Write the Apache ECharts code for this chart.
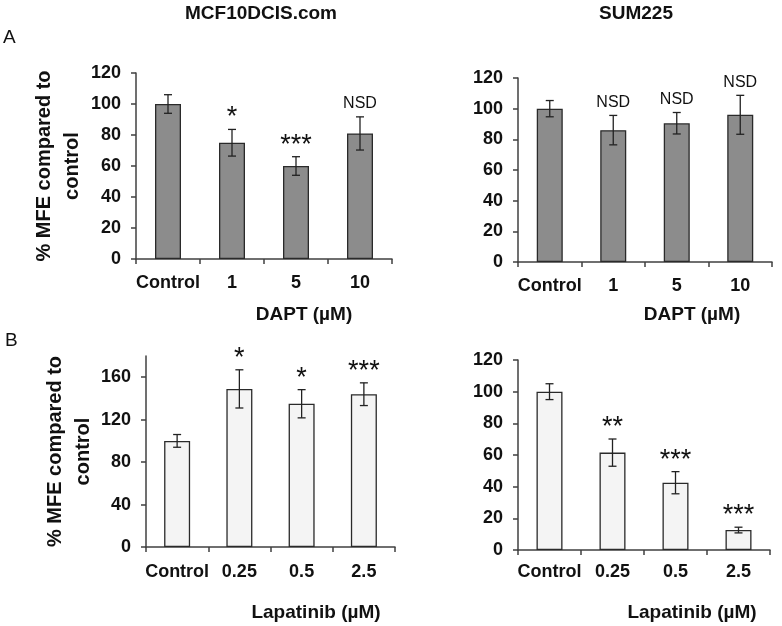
<!DOCTYPE html>
<html lang="en">

<head>
  <meta charset="UTF-8">
  <title>MFE</title>
  <script src="https://cdn.jsdelivr.net/npm/echarts@6/dist/echarts.min.js"></script>
  <style>
    body { margin: 0; background: #fff; }
  </style>
</head>

<body>
  <div id="main" style="width: 782px; height: 626px;"></div>
  <script>
    // categories
    var daptCats = ['Control', '1', '5', '10'];
    var lapCats = ['Control', '0.25', '0.5', '2.5'];

    // DAPT, MCF10DCIS.com
    var mcfDapt = [100, 75, 60, 81];
    var mcfDaptErr = [6, 8.6, 6, 10.7];
    var mcfDaptNote = ['', '*', '***', 'NSD'];

    // DAPT, SUM225
    var sumDapt = [100, 86, 90.5, 96];
    var sumDaptErr = [5.3, 9.6, 7, 12.7];
    var sumDaptNote = ['', 'NSD', 'NSD', 'NSD'];

    // Lapatinib, MCF10DCIS.com
    var mcfLap = [100, 149, 135, 144];
    var mcfLapErr = [6, 18, 13.3, 10.7];
    var mcfLapNote = ['', '*', '*', '***'];

    // Lapatinib, SUM225
    var sumLap = [100, 61.5, 42.5, 12.6];
    var sumLapErr = [5, 8.6, 7, 1.8];
    var sumLapNote = ['', '**', '***', '***'];

    var yTicksA = [0, 20, 40, 60, 80, 100, 120];
    var yTicksB = [0, 40, 80, 120, 160];

    var FONT = '"Liberation Sans", Arial, sans-serif';
    var AX = '#404040';

    var myChart = echarts.init(document.getElementById('main'));

    function xAx(idx, cats, margin) {
      return {
        type: 'category', gridIndex: idx, data: cats,
        axisLine: { lineStyle: { color: AX, width: 1.5 } },
        axisTick: { show: true, length: 5, lineStyle: { color: AX, width: 1.5 } },
        axisLabel: { interval: 0, margin: margin, fontFamily: FONT, fontSize: 18, fontWeight: 'bold', color: '#111' }
      };
    }

    function yAx(idx, max, ticks, name, gap) {
      return {
        type: 'value', gridIndex: idx, min: 0, max: max, interval: 20,
        name: name, nameLocation: 'middle', nameRotate: 90, nameGap: gap,
        nameTextStyle: { fontFamily: FONT, fontSize: 20, fontWeight: 'bold', color: '#111', lineHeight: 28 },
        splitLine: { show: false },
        axisLine: { show: true, lineStyle: { color: AX, width: 1.5 } },
        axisTick: { show: true, length: 5, customValues: ticks, lineStyle: { color: AX, width: 1.5 } },
        axisLabel: { margin: 15, customValues: ticks, fontFamily: FONT, fontSize: 18, fontWeight: 'bold', color: '#111' }
      };
    }

    function barSeries(idx, vals, fill) {
      return {
        type: 'bar', xAxisIndex: idx, yAxisIndex: idx, data: vals, barWidth: 26,
        itemStyle: { color: fill, borderColor: '#2a2a2a', borderWidth: 1.3 },
        emphasis: { disabled: true }
      };
    }

    // error bars + significance notes
    function errSeries(idx, vals, errs, notes) {
      var data = vals.map(function (v, i) { return [i, v, errs[i]]; });
      return {
        type: 'custom', xAxisIndex: idx, yAxisIndex: idx, data: data, z: 5,
        renderItem: function (params, api) {
          var i = api.value(0), m = api.value(1), e = api.value(2);
          var hi = api.coord([i, m + e]);
          var lo = api.coord([i, m - e]);
          var cx = hi[0], w = 4;
          var ls = { stroke: '#222', lineWidth: 1.3 };
          var note = notes[params.dataIndex];
          var star = note.indexOf('*') >= 0;
          var children = [
            { type: 'line', shape: { x1: cx, y1: hi[1], x2: cx, y2: lo[1] }, style: ls },
            { type: 'line', shape: { x1: cx - w, y1: hi[1], x2: cx + w, y2: hi[1] }, style: ls },
            { type: 'line', shape: { x1: cx - w, y1: lo[1], x2: cx + w, y2: lo[1] }, style: ls }
          ];
          if (note) {
            children.push({
              type: 'text', x: cx, y: star ? hi[1] - 25 : hi[1] - 13,
              style: {
                text: note, align: 'center', verticalAlign: star ? 'top' : 'middle',
                fontFamily: FONT, fontSize: star ? 27 : 16, fill: '#111'
              }
            });
          }
          return { type: 'group', children: children };
        }
      };
    }

    var lbl = '% MFE compared to\ncontrol';

    function txt(x, y, s, bold, align) {
      return {
        type: 'text', x: x, y: y,
        style: {
          text: s, align: align || 'center', verticalAlign: 'middle', fontFamily: FONT,
          fontSize: 19, fontWeight: bold ? 'bold' : 'normal', fill: '#111'
        }
      };
    }

    var option = {
      animation: false,
      textStyle: { fontFamily: FONT },
      grid: [
        { left: 136, top: 73, right: 390, height: 186 },
        { left: 518, top: 78, right: 10, height: 184 },
        { left: 146, top: 356, right: 387, height: 191 },
        { left: 518, top: 360, right: 12, height: 190 }
      ],
      xAxis: [xAx(0, daptCats, 15), xAx(1, daptCats, 15), xAx(2, lapCats, 16), xAx(3, lapCats, 13)],
      yAxis: [
        yAx(0, 120, yTicksA, lbl, 50),
        yAx(1, 120, yTicksA, '', 0),
        yAx(2, 180, yTicksB, lbl, 46),
        yAx(3, 120, yTicksA, '', 0)
      ],
      series: [
        barSeries(0, mcfDapt, '#8c8c8c'),
        barSeries(1, sumDapt, '#8c8c8c'),
        barSeries(2, mcfLap, '#f4f4f4'),
        barSeries(3, sumLap, '#f4f4f4'),
        errSeries(0, mcfDapt, mcfDaptErr, mcfDaptNote),
        errSeries(1, sumDapt, sumDaptErr, sumDaptNote),
        errSeries(2, mcfLap, mcfLapErr, mcfLapNote),
        errSeries(3, sumLap, sumLapErr, sumLapNote)
      ],
      graphic: [
        txt(261, 14, 'MCF10DCIS.com', true),
        txt(636, 14, 'SUM225', true),
        txt(3, 38, 'A', false, 'left'),
        txt(5, 341, 'B', false, 'left'),
        txt(304, 315, 'DAPT (µM)', true),
        txt(692, 315, 'DAPT (µM)', true),
        txt(316, 613, 'Lapatinib (µM)', true),
        txt(692, 613, 'Lapatinib (µM)', true)
      ]
    };

    myChart.setOption(option);
  </script>
</body>

</html>
